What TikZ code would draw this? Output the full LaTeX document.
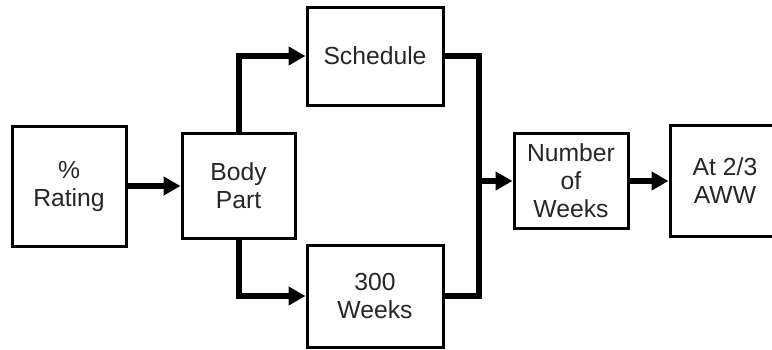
\documentclass[tikz,border=0pt]{standalone}
\usepackage{fontspec}
\setmainfont{Liberation Sans}
\usetikzlibrary{arrows.meta}

\begin{document}
\begin{tikzpicture}[x=1pt, y=-1pt, >={Triangle[length=17pt,width=18pt]},
	every node/.style={inner sep=1pt, align=center, text=black!85, font=\fontsize{24.7}{28}\selectfont},
	box/.style={rectangle, draw, line width=3pt},
	link/.style={line width=6pt}]
	\useasboundingbox (0,0) rectangle (772,349);

	% Left: inputs
	\node[box, minimum width=114pt, minimum height=120pt] (rating) at (69,186) {\%\\Rating};
	\node[box, minimum width=113pt, minimum height=105pt] (body) at (238.5,186) {Body\\Part};

	% Middle: the two branches
	\node[box, minimum width=136pt, minimum height=98pt] (sched) at (375,56) {Schedule};
	\node[box, minimum width=136pt, minimum height=102pt] (weeks) at (375,296) {300\\Weeks};

	% Right: result
	\node[box, minimum width=114pt, minimum height=95pt] (number) at (571,181) {Number\\of\\Weeks};
	\node[box, minimum width=110pt, minimum height=111pt] (aww) at (725,181) {At 2/3\\AWW};

	\coordinate (merge) at (479,181);

	\draw[->, link] (rating) -- (body);
	\draw[->, link] (body.north) |- (sched.west);
	\draw[->, link] (body.south) |- (weeks.west);
	\draw[link] (sched.east) -| (merge) |- (weeks.east);
	\draw[->, link] (merge) -- (number.west);
	\draw[->, link] (number) -- (aww);
\end{tikzpicture}
\end{document}
